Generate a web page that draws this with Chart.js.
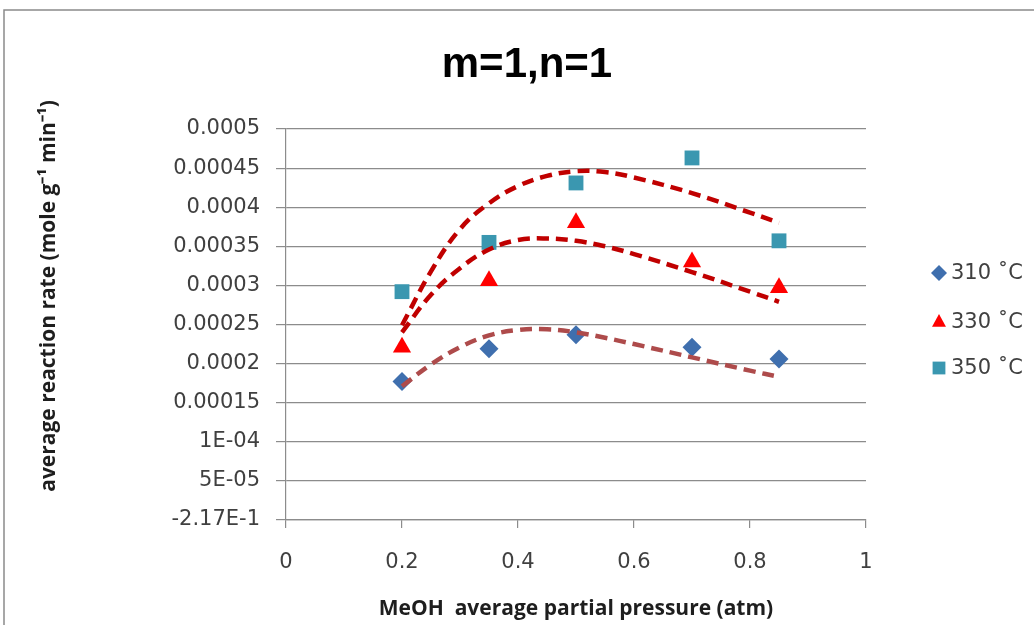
<!DOCTYPE html>
<html>
<head>
<meta charset="utf-8">
<script src="https://cdn.jsdelivr.net/npm/chart.js@4.4.1/dist/chart.umd.min.js"></script>
<style>
  html, body { margin: 0; padding: 0; background: #fff; }
  #wrap { width: 1034px; height: 625px; }
</style>
</head>
<body>
<div id="wrap"><canvas id="chart" width="1034" height="625"></canvas></div>
<script>
// measured points
var pressures = [0.2, 0.35, 0.5, 0.7, 0.85];
var rate310 = [0.000177, 0.000219, 0.000237, 0.000221, 0.000206];
var rate330 = [0.000221, 0.000306, 0.000380, 0.000330, 0.000297];
var rate350 = [0.000292, 0.000355, 0.000431, 0.000463, 0.000357];

// dashed fit curves
var fitX   = [0.2, 0.25, 0.3, 0.35, 0.4, 0.45, 0.5, 0.55, 0.6, 0.7, 0.8, 0.85];
var fit350 = [0.000249, 0.000318, 0.000372, 0.000405, 0.000427, 0.000440, 0.000446, 0.000445, 0.000438, 0.000418, 0.000393, 0.000380];
var fit330 = [0.000240, 0.000288, 0.000322, 0.000346, 0.000358, 0.000360, 0.000357, 0.000350, 0.000340, 0.000317, 0.000292, 0.000279];
var fit310 = [0.000171, 0.000199, 0.000221, 0.000236, 0.000243, 0.000244, 0.000240, 0.000233, 0.000225, 0.000208, 0.000191, 0.000183];

var seriesNames = ['310 \u02DAC', '330 \u02DAC', '350 \u02DAC'];
var xTickValues = [0, 0.2, 0.4, 0.6, 0.8, 1];
var xTickLabels = ['0', '0.2', '0.4', '0.6', '0.8', '1'];
var yTickValues = [0, 0.00005, 0.0001, 0.00015, 0.0002, 0.00025, 0.0003, 0.00035, 0.0004, 0.00045, 0.0005];
var yTickLabels = ['-2.17E-1', '5E-05', '1E-04', '0.00015', '0.0002', '0.00025', '0.0003', '0.00035', '0.0004', '0.00045', '0.0005'];

var blue = '#3F6FAE', red = '#FF0000', teal = '#3A97B0';
var tickFont = { family: 'DejaVu Sans', size: 21 };
var gridColor = '#8C8C8C';

function pts(xs, ys) {
    return xs.map(function (x, i) { return { x: x, y: ys[i] }; });
}

function marker(ctx, style, x, y, r) {
    ctx.beginPath();
    if (style == 'rectRot') {
        ctx.moveTo(x, y - r); ctx.lineTo(x + r, y); ctx.lineTo(x, y + r); ctx.lineTo(x - r, y);
    } else if (style == 'triangle') {
        ctx.moveTo(x, y - r); ctx.lineTo(x + r * 0.87, y + r * 0.6); ctx.lineTo(x - r * 0.87, y + r * 0.6);
    } else {
        ctx.rect(x - r * 0.8, y - r * 0.8, r * 1.6, r * 1.6);
    }
    ctx.closePath();
    ctx.fill();
}

var decor = {
    id: 'decor',
    beforeDraw: function (chart) {
        var ctx = chart.ctx;
        ctx.save();
        ctx.strokeStyle = '#8A8A8A';
        ctx.lineWidth = 1.5;
        ctx.strokeRect(4, 10, 1200, 800);
        ctx.restore();
    },
    afterDraw: function (chart) {
        var ctx = chart.ctx;
        ctx.save();
        // title
        ctx.fillStyle = '#000';
        ctx.font = 'bold 42px "Liberation Sans"';
        ctx.textAlign = 'center';
        ctx.textBaseline = 'alphabetic';
        ctx.fillText('m=1,n=1', 527, 77);
        // y axis title
        ctx.save();
        ctx.translate(49, 296);
        ctx.rotate(-Math.PI / 2);
        ctx.font = 'bold 21px "Open Sans"';
        ctx.fillStyle = '#1E1E1E';
        ctx.textBaseline = 'middle';
        ctx.fillText('average reaction rate (mole g\u207B\u00B9 min\u207B\u00B9)', 0, 0);
        ctx.restore();
        // legend
        var styles = ['rectRot', 'triangle', 'rect'];
        var colors = [blue, red, teal];
        var ys = [273, 322, 368];
        ctx.font = '21px "DejaVu Sans"';
        ctx.textAlign = 'left';
        ctx.textBaseline = 'middle';
        for (var i = 0; i < 3; i++) {
            ctx.fillStyle = colors[i];
            marker(ctx, styles[i], 939, ys[i], 8);
            ctx.fillStyle = '#404040';
            ctx.fillText(seriesNames[i], 951, ys[i] + 1);
        }
        ctx.restore();
    }
};

var trendStyle = {
    showLine: true, pointRadius: 0, borderWidth: 4.5, borderDash: [12, 7],
    tension: 0.4, fill: false, order: 0
};

var datasets = [
    { label: seriesNames[0], data: pts(pressures, rate310), pointStyle: 'rectRot', pointRadius: 9.5,
      backgroundColor: blue, borderColor: blue, borderWidth: 0, order: 1 },
    { label: seriesNames[1], data: pts(pressures, rate330), pointStyle: 'triangle', pointRadius: 10.5,
      backgroundColor: red, borderColor: red, borderWidth: 0, order: 1 },
    { label: seriesNames[2], data: pts(pressures, rate350), pointStyle: 'rect', pointRadius: 10.5,
      backgroundColor: teal, borderColor: teal, borderWidth: 0, order: 1 },
    Object.assign({ label: 'fit 310', data: pts(fitX, fit310), borderColor: '#AE4B4B' }, trendStyle),
    Object.assign({ label: 'fit 330', data: pts(fitX, fit330), borderColor: '#C00000' }, trendStyle),
    Object.assign({ label: 'fit 350', data: pts(fitX, fit350), borderColor: '#C00000' }, trendStyle)
];

var chart = new Chart(document.getElementById('chart').getContext('2d'), {
    type: 'scatter',
    data: { datasets: datasets },
    plugins: [decor],
    options: {
        responsive: false,
        animation: false,
        devicePixelRatio: 1,
        layout: { padding: { top: 129, left: 0, right: 168, bottom: 0 } },
        plugins: {
            legend: { display: false },
            title: { display: false },
            tooltip: { enabled: false }
        },
        scales: {
            x: {
                type: 'linear', min: 0, max: 1,
                afterBuildTicks: function (axis) {
                    axis.ticks = xTickValues.map(function (v) { return { value: v }; });
                },
                afterFit: function (scale) { scale.height = 105; },
                ticks: {
                    font: tickFont, color: '#404040', padding: 22, maxRotation: 0,
                    callback: function (v, i) { return xTickLabels[i]; }
                },
                grid: { drawOnChartArea: false, drawTicks: true, tickLength: 8, color: gridColor, lineWidth: 1.2 },
                border: { display: true, color: gridColor, width: 1.2 },
                title: {
                    display: true, text: 'MeOH  average partial pressure (atm)',
                    font: { family: 'Open Sans', size: 21, weight: 'bold' }, color: '#1E1E1E',
                    padding: { top: 0, bottom: 3 }
                }
            },
            y: {
                type: 'linear', min: 0, max: 0.0005,
                afterBuildTicks: function (axis) {
                    axis.ticks = yTickValues.map(function (v) { return { value: v }; });
                },
                afterFit: function (scale) { scale.width = 286; },
                ticks: {
                    font: tickFont, color: '#404040', padding: 16,
                    callback: function (v, i) { return yTickLabels[i]; }
                },
                grid: { drawTicks: true, tickLength: 10, color: gridColor, lineWidth: 1.2 },
                border: { display: true, color: gridColor, width: 1.2 }
            }
        }
    }
});
</script>
</body>
</html>
